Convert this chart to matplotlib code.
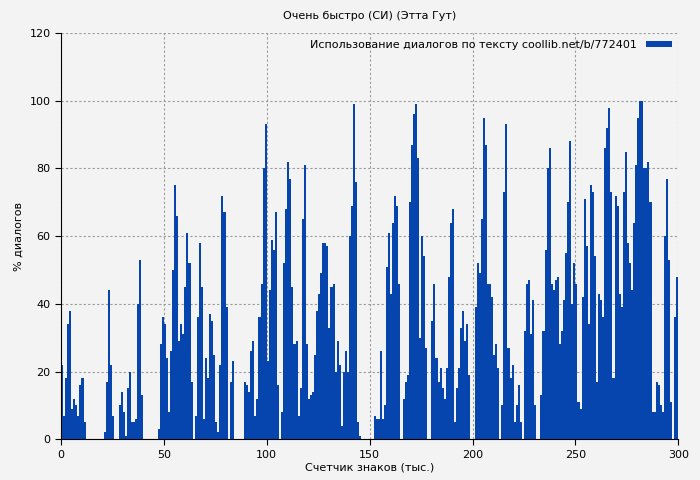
import matplotlib
matplotlib.use("Agg")
import matplotlib.pyplot as plt
import numpy as np

values = [22,7,18,34,38,9,12,10,7,16,18,5,0,0,0,0,0,0,0,0,0,2,17,44,22,7,0,0,10,14,
8,1,15,20,5,5,6,40,53,13,0,0,0,0,0,0,0,3,28,36,34,24,8,26,50,75,66,29,34,31,
45,61,52,17,0,7,36,58,45,6,24,18,37,35,25,5,2,22,72,67,39,0,17,23,0,0,0,0,0,17,
16,14,26,29,7,12,36,46,80,93,23,44,59,56,67,16,0,8,52,68,82,77,45,28,29,7,15,65,81,28,
12,13,14,25,38,43,49,58,58,57,33,45,46,20,29,22,4,20,26,20,60,69,99,76,5,1,0,0,0,0,
0,0,7,6,6,26,6,10,51,61,43,64,72,69,46,0,12,17,19,70,87,96,99,83,30,60,54,27,0,0,
35,46,24,17,21,15,12,21,48,64,68,5,15,21,33,38,29,34,19,0,0,39,52,49,65,95,87,46,46,42,
25,28,21,0,10,73,93,27,18,22,5,10,16,5,0,32,46,47,31,41,10,0,0,13,32,56,80,86,46,44,
47,48,28,32,41,55,70,88,40,52,46,11,9,42,71,57,34,75,73,54,17,43,41,36,86,92,98,73,18,72,
69,43,39,73,85,58,52,44,64,81,95,100,100,80,80,82,70,8,8,17,16,10,8,60,77,53,11,0,36,48]
x = np.arange(len(values)) + 0.5

title = "Очень быстро (СИ) (Этта Гут)"
xlabel = "Счетчик знаков (тыс.)"
ylabel = "% диалогов"
legend_label = "Использование диалогов по тексту coollib.net/b/772401"

plt.rcParams['font.family'] = ['DejaVu Sans']
fig = plt.figure(figsize=(7, 4.8), dpi=100, facecolor='#f3f3f3')
ax = fig.add_axes([0.087, 0.085, 0.882, 0.846])
ax.set_facecolor('#f3f3f3')
ax.bar(x, values, width=1.0, color='#0645ad', linewidth=0, label=legend_label)
ax.set_xlim(0, 300)
ax.set_ylim(0, 120)
ax.set_xticks(range(0, 301, 50))
ax.set_yticks(range(0, 121, 20))
ax.grid(True, color='#999999', linestyle=(0, (2, 2)), linewidth=0.8)
ax.set_axisbelow(True)
for s in ['top', 'right']:
    ax.spines[s].set_visible(False)
ax.tick_params(labelsize=8, length=4)
ax.set_title(title, fontsize=8, pad=10)
ax.set_xlabel(xlabel, fontsize=8, labelpad=2)
ax.set_ylabel(ylabel, fontsize=8)
ax.legend(loc='upper right', frameon=False, fontsize=8, markerfirst=False,
          handlelength=2.3, handleheight=0.4, borderaxespad=0.2)
fig.savefig("out.png", dpi=100, facecolor=fig.get_facecolor())
